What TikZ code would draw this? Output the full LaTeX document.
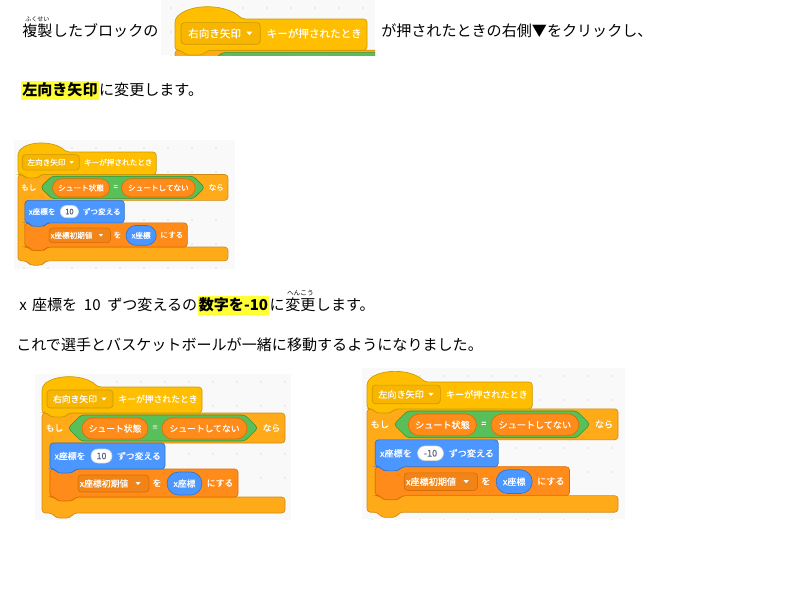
\documentclass[tikz,border=0pt]{standalone}
\usepackage{fontspec}
\setmainfont{Noto Sans CJK JP}
\newfontfamily\blockfont{Noto Sans CJK JP}[FakeBold=0.4]
\usetikzlibrary{positioning,shapes.misc}

\definecolor{evfill}{HTML}{FFBF00}
\definecolor{evfield}{HTML}{F7B500}
\definecolor{evdraw}{HTML}{CC9900}
\definecolor{ctlfill}{HTML}{FFAB19}
\definecolor{ctldraw}{HTML}{CF8B17}
\definecolor{opfill}{HTML}{59C059}
\definecolor{opdraw}{HTML}{389438}
\definecolor{varfill}{HTML}{FF8C1A}
\definecolor{vardraw}{HTML}{DB6E00}
\definecolor{motfill}{HTML}{4C97FF}
\definecolor{motdraw}{HTML}{3373CC}
\definecolor{numtext}{HTML}{575E75}
\definecolor{canvasbg}{HTML}{F9F9F9}
\definecolor{canvasdot}{HTML}{DDDDDD}
\definecolor{hlyellow}{HTML}{FFFF33}

\tikzset{
  txt/.style={font=\fontsize{11.3}{13}\selectfont, inner sep=0pt, anchor=base west},
  hl/.style={txt, fill=hlyellow, font=\fontsize{11.3}{13}\selectfont\bfseries,
    text height=9pt, text depth=2.5pt, inner ysep=1.5pt, inner xsep=0.75pt},
  ruby/.style={font=\fontsize{4.5}{5}\selectfont, inner sep=0pt},
  blk/.style={line width=0.5pt, rounded corners=2.5pt},
  btxt/.style={text=white, font=\blockfont\fontsize{6.6}{7}\selectfont, inner sep=0pt},
  varpill/.style={rounded rectangle, fill=varfill, draw=vardraw, line width=0.5pt,
    btxt, minimum height=15.75pt},
  numpill/.style={rounded rectangle, fill=white, draw=black!15, line width=0.5pt,
    btxt, text=numtext, minimum height=10.5pt},
  motpill/.style={rounded rectangle, fill=motfill, draw=motdraw, line width=0.5pt,
    btxt, minimum height=17.25pt, minimum width=26.25pt}
}

% canvas of a screenshot: x1, y1, x2, y2
\newcommand{\scrcanvas}[4]{%
  \fill[canvasbg] (#1,#2) rectangle (#3,#4);
  \begin{scope}
    \clip (#1,#2) rectangle (#3,#4);
    \foreach \dx in {0,24,...,264}
      \foreach \dy in {0,24,...,144}
        \fill[canvasdot] ({#1+10+\dx},{#2+8+\dy}) circle (0.6pt);
  \end{scope}}

% whole script: prefix, key, step, extra width
\newcommand{\whenkey}[4]{%
  % if block
  \draw[blk, fill=ctlfill, draw=ctldraw] (0,26) -- (243,26) -- (243,56) -- (8,56) -- (8,110) -- (243,110) -- (243,126) -- (32,126) -- (28,131) -- (14,131) -- (10,126) -- (0,126) -- cycle;
  % hat
  \draw[blk, fill=evfill, draw=evdraw] (0,26) -- (0,0) .. controls (12,-13) and (42,-13) .. (56,0) -- (160,0) -- (160,26) -- (27,26) -- (23,30) -- (9,30) -- (5,26) -- cycle;
  \draw[blk, fill=evfield, draw=evdraw] (5,3) rectangle (71,21);
  \node[btxt] (#1key) at (33,12) {#2};
  \fill[white] (59.5,10.5) -- (64.5,10.5) -- (62,13.5) -- cycle;
  \node[btxt] (#1when) at (116,12) {キーが押されたとき};
  % condition
  \node[btxt] (#1if) at (12.5,41) {もし};
  \draw[blk, fill=opfill, draw=opdraw] (26,41) -- (39,28) -- (203,28) -- (216,41) -- (203,54) -- (39,54) -- cycle;
  \node[varpill, minimum width=49.5pt] (#1state) at (73,41.5) {シュート状態};
  \node[btxt] (#1eq) at (113,41) {=};
  \node[varpill, minimum width=63.75pt] (#1value) at (162.5,41.5) {シュートしてない};
  \node[btxt] (#1then) at (229.5,41) {なら};
  % set block
  \draw[blk, fill=varfill, draw=vardraw] (8,82) -- (196,82) -- (196,110) -- (34,110) -- (30,114) -- (16,114) -- (12,110) -- (8,110) -- cycle;
  \draw[blk, fill=varfill!94!black, draw=vardraw] (36,88) rectangle (107,105);
  \node[btxt] (#1var) at (62,96.5) {x座標初期値};
  \fill[white] (93.5,95) -- (98.5,95) -- (96,98) -- cycle;
  \node[btxt] (#1to) at (115,96) {を};
  \node[motpill] (#1xpos) at (142.5,96.5) {x座標};
  \node[btxt] (#1set) at (178,96) {にする};
  % change block
  \draw[blk, fill=motfill, draw=motdraw] (8,56) -- ({123+#4},56) -- ({123+#4},82) -- (34,82) -- (30,86) -- (16,86) -- (12,82) -- (8,82) -- cycle;
  \node[btxt] (#1chx) at (28,69) {x座標を};
  \node[numpill, minimum width={(21+#4)*0.75pt}] (#1num) at ({59.5+#4/2},69) {#3};
  \node[btxt] (#1by) at ({97+#4},69) {ずつ変える};
}

\begin{document}
\begin{tikzpicture}[x=0.75pt,y=-0.75pt]
\useasboundingbox (0,0) rectangle (785,590);
\fill[white] (0,0) rectangle (785,590);

% line 1
\node[txt] (fukusei) at (22,36) {複製};
\node[ruby, above=0.6pt of fukusei] (fukuseiruby) {ふくせい};
\node[txt] (l1b) at (fukusei.base east) {したブロックの};
\begin{scope}
  \clip (161,0) rectangle (375,55);
  \scrcanvas{161}{0}{375}{55}
  \begin{scope}[shift={(175,19)}, scale=1.2, transform shape]
    \whenkey{a}{右向き矢印}{10}{0}
  \end{scope}
\end{scope}
\node[txt] (l1c) at (381,36) {が押されたときの右側▼をクリックし、};

% line 2
\node[hl] (hidari) at (21,95) {左向き矢印};
\node[txt] (l2b) at (hidari.base east) {に変更します。};

% screenshot 2
\scrcanvas{14}{140}{235}{269}
\begin{scope}[shift={(18,152)}, scale=0.864, transform shape]
  \whenkey{b}{左向き矢印}{10}{0}
\end{scope}

% line 3
\node[txt] (l3a) at (19,310) {x\hspace{4pt}座標を\hspace{5pt}10\hspace{5pt}ずつ変えるの};
\node[hl] (suuji) at (l3a.base east) {数字を-10\hspace{4pt}};
\node[txt] (l3c) at (suuji.base east) {に};
\node[txt] (henkou) at (l3c.base east) {変更};
\node[ruby, font=\fontsize{5}{6}\selectfont, above=0.6pt of henkou] (henkouruby) {へんこう};
\node[txt] (l3d) at (henkou.base east) {します。};

% line 4
\node[txt] (l4) at (16,350) {これで選手とバスケットボールが一緒に移動するようになりました。};

% screenshots 3 and 4
\scrcanvas{35}{374}{291}{520}
\begin{scope}[shift={(42,387)}, scale=1, transform shape]
  \whenkey{c}{右向き矢印}{10}{0}
\end{scope}
\scrcanvas{362}{368}{625}{519}
\begin{scope}[shift={(367,382)}, scale=1.033, transform shape]
  \whenkey{d}{左向き矢印}{-10}{4}
\end{scope}
\end{tikzpicture}
\end{document}
